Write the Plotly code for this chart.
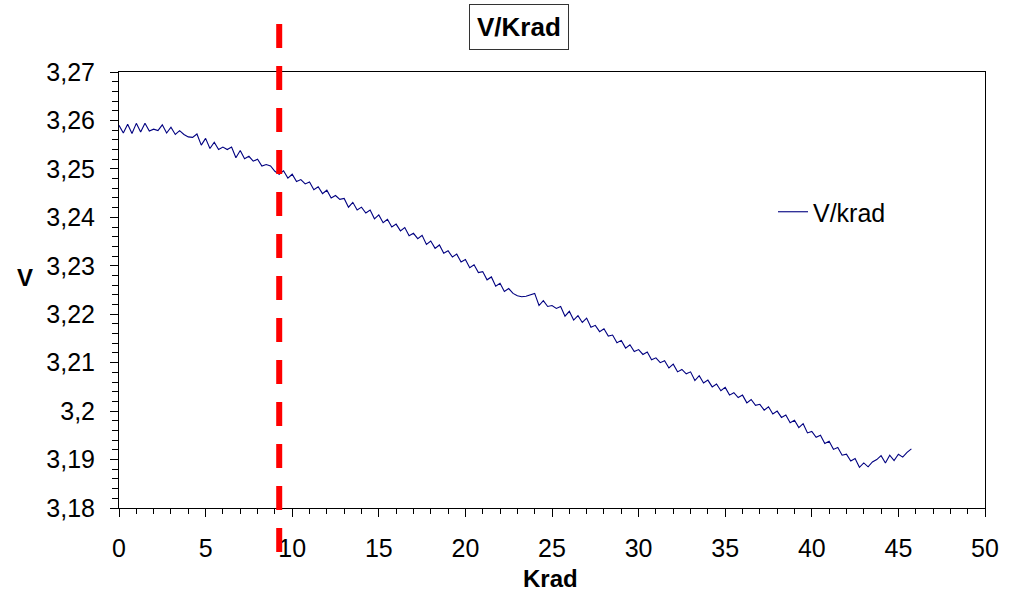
import plotly.graph_objects as go

krad = [0.00, 0.25, 0.50, 0.75, 1.00, 1.25, 1.50, 1.75, 2.00, 2.25, 2.50, 2.75,
        3.00, 3.25, 3.50, 3.75, 4.00, 4.25, 4.50, 4.75, 5.00, 5.25, 5.50, 5.75,
        6.00, 6.25, 6.50, 6.75, 7.00, 7.25, 7.50, 7.75, 8.00, 8.25, 8.50, 8.75,
        9.00, 9.25, 9.50, 9.75, 10.00, 10.25, 10.50, 10.75, 11.00, 11.25, 11.50, 11.75,
        12.00, 12.25, 12.50, 12.75, 13.00, 13.25, 13.50, 13.75, 14.00, 14.25, 14.50, 14.75,
        15.00, 15.25, 15.50, 15.75, 16.00, 16.25, 16.50, 16.75, 17.00, 17.25, 17.50, 17.75,
        18.00, 18.25, 18.50, 18.75, 19.00, 19.25, 19.50, 19.75, 20.00, 20.25, 20.50, 20.75,
        21.00, 21.25, 21.50, 21.75, 22.00, 22.25, 22.50, 22.75, 23.00, 23.25, 23.50, 23.75,
        24.00, 24.25, 24.50, 24.75, 25.00, 25.25, 25.50, 25.75, 26.00, 26.25, 26.50, 26.75,
        27.00, 27.25, 27.50, 27.75, 28.00, 28.25, 28.50, 28.75, 29.00, 29.25, 29.50, 29.75,
        30.00, 30.25, 30.50, 30.75, 31.00, 31.25, 31.50, 31.75, 32.00, 32.25, 32.50, 32.75,
        33.00, 33.25, 33.50, 33.75, 34.00, 34.25, 34.50, 34.75, 35.00, 35.25, 35.50, 35.75,
        36.00, 36.25, 36.50, 36.75, 37.00, 37.25, 37.50, 37.75, 38.00, 38.25, 38.50, 38.75,
        39.00, 39.25, 39.50, 39.75, 40.00, 40.25, 40.50, 40.75, 41.00, 41.25, 41.50, 41.75,
        42.00, 42.25, 42.50, 42.75, 43.00, 43.25, 43.50, 43.75, 44.00, 44.25, 44.50, 44.75,
        45.00, 45.25, 45.50, 45.75]

volts = [3.2590, 3.2574, 3.2592, 3.2573, 3.2594, 3.2576, 3.2594, 3.2578, 3.2582, 3.2579, 3.2591, 3.2574,
         3.2586, 3.2571, 3.2579, 3.2571, 3.2566, 3.2565, 3.2572, 3.2549, 3.2563, 3.2542, 3.2555, 3.2540,
         3.2545, 3.2540, 3.2545, 3.2523, 3.2538, 3.2521, 3.2526, 3.2516, 3.2520, 3.2506, 3.2509, 3.2506,
         3.2495, 3.2489, 3.2496, 3.2481, 3.2489, 3.2474, 3.2478, 3.2469, 3.2473, 3.2457, 3.2463, 3.2449,
         3.2456, 3.2440, 3.2445, 3.2437, 3.2439, 3.2421, 3.2431, 3.2415, 3.2421, 3.2409, 3.2415, 3.2397,
         3.2405, 3.2389, 3.2396, 3.2380, 3.2386, 3.2372, 3.2379, 3.2362, 3.2367, 3.2356, 3.2363, 3.2344,
         3.2351, 3.2336, 3.2343, 3.2326, 3.2331, 3.2318, 3.2324, 3.2308, 3.2313, 3.2296, 3.2302, 3.2286,
         3.2288, 3.2271, 3.2277, 3.2258, 3.2264, 3.2247, 3.2253, 3.2243, 3.2238, 3.2236, 3.2237, 3.2240,
         3.2243, 3.2218, 3.2228, 3.2216, 3.2218, 3.2212, 3.2216, 3.2196, 3.2206, 3.2188, 3.2197, 3.2183,
         3.2192, 3.2173, 3.2177, 3.2164, 3.2170, 3.2155, 3.2157, 3.2141, 3.2146, 3.2130, 3.2137, 3.2123,
         3.2127, 3.2117, 3.2122, 3.2106, 3.2110, 3.2100, 3.2104, 3.2089, 3.2097, 3.2081, 3.2086, 3.2077,
         3.2081, 3.2063, 3.2073, 3.2058, 3.2064, 3.2050, 3.2056, 3.2042, 3.2049, 3.2033, 3.2038, 3.2028,
         3.2033, 3.2017, 3.2024, 3.2012, 3.2014, 3.2002, 3.2009, 3.1994, 3.2000, 3.1987, 3.1992, 3.1976,
         3.1981, 3.1966, 3.1974, 3.1955, 3.1958, 3.1946, 3.1950, 3.1933, 3.1938, 3.1921, 3.1925, 3.1909,
         3.1911, 3.1897, 3.1902, 3.1884, 3.1893, 3.1885, 3.1895, 3.1900, 3.1908, 3.1893, 3.1909, 3.1898,
         3.1911, 3.1905, 3.1915, 3.1922]

y_tickvals = [3.18, 3.19, 3.20, 3.21, 3.22, 3.23, 3.24, 3.25, 3.26, 3.27]
y_ticktext = ["3,18", "3,19", "3,2", "3,21", "3,22", "3,23", "3,24", "3,25", "3,26", "3,27"]
x_tickvals = [0, 5, 10, 15, 20, 25, 30, 35, 40, 45, 50]
marker_krad = 9.25

FONT = "Liberation Sans, Arial, sans-serif"

fig = go.Figure()
fig.add_trace(go.Scatter(x=krad, y=volts, mode="lines", name="V/krad",
                         line=dict(color="#000080", width=1.1)))

W, H = 1016, 591
L, R, T, B = 119, 31, 72, 83
ph = H - T - B

def py(pix):
    return (H - B - pix) / ph

fig.add_shape(type="line", xref="x", yref="paper",
              x0=marker_krad, x1=marker_krad, y0=py(24), y1=py(553),
              line=dict(color="#FF0000", width=6, dash="24px,18px"))

fig.update_layout(
    width=W, height=H,
    margin=dict(l=L, r=R, t=T, b=B),
    paper_bgcolor="white", plot_bgcolor="white",
    font=dict(family=FONT, size=25, color="black"),
    showlegend=True,
    legend=dict(x=(773 - L) / (W - L - R), y=py(212), xanchor="left", yanchor="middle",
                bgcolor="rgba(0,0,0,0)", font=dict(size=25), itemwidth=30),
    xaxis=dict(range=[0, 50], tickvals=x_tickvals, ticks="outside", ticklen=8,
               tickwidth=1, tickcolor="black", showline=True, linecolor="black",
               linewidth=1, mirror=True, showgrid=False, zeroline=False,
               minor=dict(dtick=1, ticks="outside", ticklen=5, tickcolor="black", showgrid=False),
               tickfont=dict(size=25), ticklabelstandoff=10),
    yaxis=dict(range=[3.18, 3.27], tickvals=y_tickvals, ticktext=y_ticktext,
               ticks="outside", ticklen=8, tickwidth=1, tickcolor="black",
               showline=True, linecolor="black", linewidth=1, mirror=True,
               showgrid=False, zeroline=False,
               minor=dict(tickvals=[3.18 + 0.002 * k for k in range(46)], ticks="outside",
                          ticklen=6, tickcolor="black", showgrid=False),
               tickfont=dict(size=25), ticklabelstandoff=10),
    annotations=[
        dict(text="<b>V/Krad</b>", xref="paper", yref="paper", x=(519 - L) / (W - L - R),
             y=py(27), xanchor="center", yanchor="middle", showarrow=False,
             font=dict(size=26), bordercolor="#333333", borderwidth=1, borderpad=7,
             bgcolor="white"),
        dict(text="<b>V</b>", xref="paper", yref="paper", x=(25 - L) / (W - L - R),
             y=py(277), xanchor="center", yanchor="middle", showarrow=False,
             font=dict(size=24)),
        dict(text="<b>Krad</b>", xref="paper", yref="paper", x=(550 - L) / (W - L - R),
             y=py(578), xanchor="center", yanchor="middle", showarrow=False,
             font=dict(size=24)),
    ],
)

fig.write_html("out.html")
